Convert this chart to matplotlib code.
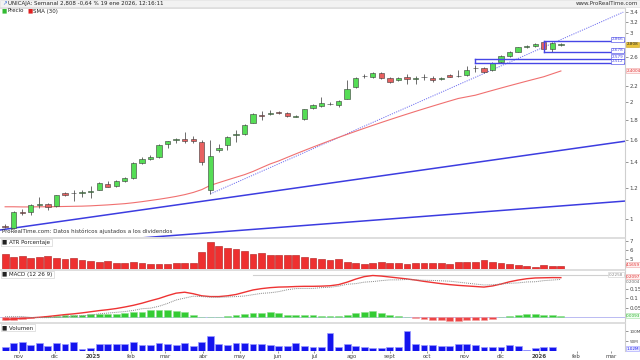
import numpy as np
import pandas as pd
import matplotlib
matplotlib.use('Agg')
import matplotlib.pyplot as plt
from matplotlib.ticker import NullLocator

# datos semanales UNICAJA (lunes de cada semana)
inicio = pd.Timestamp('2024-10-21')
n_semanas = 66

apertura = [0.962, 0.950, 1.045, 1.042, 1.086, 1.095, 1.080, 1.166, 1.165, 1.168, 1.175,
            1.187, 1.230, 1.216, 1.254, 1.275, 1.395, 1.429, 1.440, 1.559, 1.594, 1.608,
            1.608, 1.574, 1.187, 1.504, 1.547, 1.641, 1.650, 1.768, 1.854, 1.865, 1.880,
            1.869, 1.832, 1.807, 1.925, 1.955, 1.975, 1.967, 2.038, 2.180, 2.335, 2.320,
            2.368, 2.309, 2.276, 2.313, 2.295, 2.318, 2.309, 2.289, 2.344, 2.333, 2.344,
            2.437, 2.448, 2.411, 2.537, 2.628, 2.690, 2.767, 2.778, 2.850, 2.734, 2.800]
maximo = [0.972, 1.046, 1.058, 1.095, 1.14, 1.10, 1.155, 1.175, 1.185, 1.19, 1.215,
          1.245, 1.25, 1.26, 1.28, 1.40, 1.44, 1.46, 1.56, 1.59, 1.61, 1.67,
          1.63, 1.60, 1.60, 1.56, 1.63, 1.69, 1.75, 1.87, 1.89, 1.90, 1.89,
          1.88, 1.855, 1.92, 1.97, 2.06, 1.995, 2.02, 2.28, 2.31, 2.36, 2.38,
          2.38, 2.32, 2.32, 2.36, 2.33, 2.36, 2.33, 2.32, 2.36, 2.42, 2.47,
          2.49, 2.46, 2.53, 2.64, 2.70, 2.77, 2.80, 2.84, 2.866, 2.85, 2.83]
minimo = [0.948, 0.945, 1.025, 1.025, 1.065, 1.055, 1.075, 1.145, 1.115, 1.14, 1.13,
          1.185, 1.205, 1.21, 1.245, 1.27, 1.385, 1.42, 1.435, 1.52, 1.57, 1.565,
          1.565, 1.38, 1.16, 1.49, 1.50, 1.58, 1.645, 1.76, 1.80, 1.85, 1.86,
          1.83, 1.825, 1.80, 1.915, 1.945, 1.96, 1.94, 2.03, 2.17, 2.30, 2.30,
          2.29, 2.23, 2.26, 2.22, 2.22, 2.28, 2.25, 2.27, 2.31, 2.31, 2.33,
          2.38, 2.37, 2.40, 2.52, 2.61, 2.68, 2.75, 2.76, 2.72, 2.678, 2.78]
cierre = [0.952, 1.040, 1.036, 1.086, 1.090, 1.076, 1.150, 1.150, 1.167, 1.170, 1.182,
          1.240, 1.211, 1.254, 1.272, 1.390, 1.424, 1.446, 1.547, 1.586, 1.605, 1.586,
          1.584, 1.399, 1.454, 1.525, 1.622, 1.654, 1.744, 1.858, 1.836, 1.876, 1.869,
          1.840, 1.833, 1.914, 1.960, 1.983, 1.978, 2.007, 2.158, 2.303, 2.337, 2.368,
          2.299, 2.245, 2.303, 2.286, 2.309, 2.322, 2.276, 2.303, 2.317, 2.337, 2.411,
          2.440, 2.386, 2.522, 2.623, 2.682, 2.762, 2.783, 2.822, 2.734, 2.826, 2.808]
sma30 = [1.075, 1.075, 1.074, 1.074, 1.075, 1.075, 1.076, 1.077, 1.078, 1.079, 1.081,
         1.084, 1.087, 1.091, 1.095, 1.101, 1.108, 1.116, 1.124, 1.133, 1.143, 1.155,
         1.170, 1.190, 1.220, 1.240, 1.260, 1.280, 1.300, 1.325, 1.355, 1.385, 1.410,
         1.440, 1.470, 1.500, 1.530, 1.560, 1.590, 1.620, 1.650, 1.680, 1.710, 1.740,
         1.770, 1.800, 1.830, 1.860, 1.890, 1.920, 1.950, 1.980, 2.010, 2.040, 2.060,
         2.080, 2.110, 2.140, 2.170, 2.200, 2.230, 2.260, 2.290, 2.320, 2.360, 2.4004]

atr_pct = [5.48, 5.19, 5.26, 5.11, 5.19, 5.26, 5.07, 5.00, 5.04, 4.81, 4.78,
           4.63, 4.74, 4.56, 4.56, 4.63, 4.48, 4.37, 4.37, 4.37, 4.52, 4.52,
           4.50, 5.78, 6.81, 6.44, 6.15, 6.11, 5.81, 5.52, 5.67, 5.44, 5.41,
           5.44, 5.37, 5.19, 5.04, 5.00, 4.89, 4.93, 4.63, 4.56, 4.41, 4.52,
           4.67, 4.52, 4.48, 4.41, 4.52, 4.48, 4.48, 4.48, 4.44, 4.59, 4.59,
           4.59, 4.81, 4.63, 4.52, 4.44, 4.26, 4.15, 4.04, 4.26, 4.19, 4.1659]

macd = [-0.011, -0.008, -0.005, -0.002, 0.001, 0.005, 0.010, 0.015, 0.019, 0.024, 0.030,
        0.036, 0.041, 0.047, 0.055, 0.064, 0.075, 0.088, 0.100, 0.115, 0.128, 0.133,
        0.125, 0.114, 0.110, 0.110, 0.114, 0.121, 0.133, 0.145, 0.152, 0.157, 0.160,
        0.161, 0.163, 0.164, 0.164, 0.165, 0.167, 0.173, 0.186, 0.202, 0.215, 0.221,
        0.218, 0.213, 0.208, 0.203, 0.197, 0.190, 0.184, 0.178, 0.173, 0.169, 0.166,
        0.163, 0.160, 0.166, 0.176, 0.188, 0.197, 0.204, 0.208, 0.209, 0.210, 0.2097]
senal = [0.004, 0.004, 0.005, 0.000, -0.001, -0.001, 0.000, 0.004, 0.006, 0.009, 0.012,
         0.019, 0.023, 0.027, 0.031, 0.037, 0.046, 0.049, 0.059, 0.074, 0.092, 0.102,
         0.112, 0.110, 0.107, 0.106, 0.108, 0.110, 0.113, 0.120, 0.127, 0.130, 0.136,
         0.146, 0.152, 0.153, 0.153, 0.157, 0.159, 0.165, 0.175, 0.178, 0.186, 0.189,
         0.194, 0.198, 0.198, 0.200, 0.198, 0.196, 0.195, 0.193, 0.191, 0.186, 0.181,
         0.176, 0.171, 0.172, 0.176, 0.180, 0.182, 0.187, 0.188, 0.194, 0.197, 0.2004]
histograma = [-0.015, -0.012, -0.010, -0.002, 0.002, 0.006, 0.010, 0.011, 0.013, 0.015, 0.018,
              0.017, 0.018, 0.020, 0.024, 0.027, 0.029, 0.039, 0.041, 0.041, 0.036, 0.031,
              0.013, 0.004, 0.003, 0.004, 0.006, 0.011, 0.020, 0.025, 0.025, 0.027, 0.024,
              0.015, 0.011, 0.011, 0.011, 0.008, 0.008, 0.008, 0.011, 0.024, 0.029, 0.032,
              0.024, 0.015, 0.010, 0.003, -0.001, -0.006, -0.011, -0.015, -0.018, -0.017, -0.015,
              -0.013, -0.011, -0.006, 0.000, 0.008, 0.015, 0.017, 0.020, 0.015, 0.013, 0.0093]

# volumen en millones
volumen = [22.6, 42, 45, 29, 39, 26, 39, 37, 43.5, 11, 14.5,
           34, 35.5, 35.5, 35.5, 47, 29, 29, 39, 37, 31, 40,
           26, 48, 77, 34, 32, 39, 40, 35.5, 34, 31, 26,
           24, 42, 27, 21, 22.6, 90, 18, 35.5, 24, 19, 13,
           14.5, 22.6, 21, 103, 34, 29, 29, 27, 24, 34, 34,
           31, 21, 21, 21, 31, 24, 6.5, 13, 22.6, 22.6, 1.02]

fechas_mes = ['2024-11-01', '2024-12-01', '2025-01-01', '2025-02-01', '2025-03-01', '2025-04-01',
              '2025-05-01', '2025-06-01', '2025-07-01', '2025-08-01', '2025-09-01', '2025-10-01',
              '2025-11-01', '2025-12-01', '2026-01-01', '2026-02-01', '2026-03-01']
etiquetas_mes = ['nov', 'dic', '2025', 'feb', 'mar', 'abr', 'may', 'jun', 'jul', 'ago',
                 'sept', 'oct', 'nov', 'dic', '2026', 'feb', 'mar']

# lineas dibujadas a mano sobre el grafico (indice semana, precio)
canal_sup = ([-0.6, 72.5], [0.937, 1.584])
canal_inf = ([10.0, 72.5], [0.874, 1.112])
tendencia = ([24.0, 72.3], [1.16, 3.40])
niveles_sup = [2.866, 2.678]
niveles_inf = [2.579, 2.512]

x = np.arange(n_semanas)
apertura = np.array(apertura); cierre = np.array(cierre)
maximo = np.array(maximo); minimo = np.array(minimo)
sube = cierre >= apertura

FS = 4
FSB = 3  # etiquetas en caja del eje
GRIS = '#444444'

fig = plt.figure(figsize=(6.4, 3.6), dpi=100)
fig.patch.set_facecolor('white')

def px(xp, yp):
    return xp / 640, 1 - yp / 360

W = 625 / 640
ax = fig.add_axes([0, 1 - 237 / 360, W, 229 / 360])
ax_atr = fig.add_axes([0, 1 - 269 / 360, W, 31 / 360], sharex=ax)
ax_macd = fig.add_axes([0, 1 - 322 / 360, W, 52 / 360], sharex=ax)
ax_vol = fig.add_axes([0, 1 - 351 / 360, W, 28 / 360], sharex=ax)

for a in (ax, ax_atr, ax_macd, ax_vol):
    a.set_facecolor('white')
    for s in ('left', 'bottom'):
        a.spines[s].set_visible(False)
    a.spines['top'].set_color('#d8d8d8')
    a.spines['right'].set_color('#cfcfcf')
    a.spines['top'].set_linewidth(1.2)
    a.spines['right'].set_linewidth(0.8)
    a.yaxis.tick_right()
    a.tick_params(axis='y', labelsize=FS, colors=GRIS, length=2, width=0.4, pad=1)
    a.tick_params(axis='x', bottom=False, labelbottom=False)
ax.set_xlim(-0.6, 72.5)

def caja_eje(a, y, texto, color, fondo, borde):
    a.text(1.002, y, texto, transform=a.get_yaxis_transform(), ha='left', va='center',
           fontsize=FSB, color=color, zorder=10,
           bbox=dict(boxstyle='square,pad=0.12', fc=fondo, ec=borde, lw=0.4))

# ---- precio ----
ax.set_yscale('log')
ax.set_ylim(0.899, 3.484)
ax.yaxis.set_minor_locator(NullLocator())
ticks_p = [1, 1.2, 1.4, 1.6, 1.8, 2, 2.2, 2.6, 3, 3.2, 3.4]
ax.set_yticks(ticks_p)
ax.set_yticklabels([('%g' % t) for t in ticks_p])

ax.plot(canal_sup[0], canal_sup[1], color='#3c3ce0', lw=1.1, zorder=2)
ax.plot(canal_inf[0], canal_inf[1], color='#3c3ce0', lw=1.1, zorder=2)
ax.plot(tendencia[0], tendencia[1], color='#7070f0', lw=0.7, ls=(0, (1.2, 1.2)), zorder=2)
ax.plot(x, sma30, color='#f07070', lw=0.8, zorder=2)

colores = np.where(sube, '#55dd55', '#e86060')
ax.vlines(x, minimo, maximo, color='#555555', lw=0.6, zorder=3)
cuerpo_base = np.minimum(apertura, cierre)
cuerpo_alto = np.maximum(np.abs(cierre - apertura), 0.002)
ax.bar(x, cuerpo_alto, bottom=cuerpo_base, width=0.62, color=colores,
       edgecolor='#3a3a3a', linewidth=0.4, zorder=4)

for lvl in niveles_sup:
    ax.plot([63, 72.5], [lvl, lvl], color='#4646e6', lw=1.0, zorder=5)
ax.plot([63, 63], niveles_sup, color='#4646e6', lw=1.0, zorder=5)
for lvl in niveles_inf:
    ax.plot([55, 72.5], [lvl, lvl], color='#4646e6', lw=1.0, zorder=5)
ax.plot([55, 55], niveles_inf, color='#4646e6', lw=1.0, zorder=5)
for lvl in niveles_sup + niveles_inf:
    ax.text(0.997, lvl, ('%.3f' % lvl), transform=ax.get_yaxis_transform(), ha='right', va='bottom',
            fontsize=FSB, color='#4646e6',
            bbox=dict(boxstyle='square,pad=0.12', fc='white', ec='#4646e6', lw=0.4), zorder=6)

caja_eje(ax, cierre[-1], '2.808', '#222222', '#e8c23a', '#c9a020')
caja_eje(ax, sma30[-1], '2.4004', '#e03030', '#fff0f0', '#f0a0a0')

ax.text(0.003, 0.012, 'ProRealTime.com: Datos históricos ajustados a los dividendos', transform=ax.transAxes,
        fontsize=FS, color='#333333', va='bottom', ha='left')

# ---- ATR porcentaje ----
base_atr = 3.86
ax_atr.set_ylim(base_atr, 7.3)
ax_atr.bar(x, np.array(atr_pct) - base_atr, bottom=base_atr, width=0.8, color='#ee3030',
           edgecolor='#b01818', linewidth=0.4)
ax_atr.set_yticks([5, 6, 7])
ax_atr.set_yticklabels(['5', '6', '7'])
caja_eje(ax_atr, 4.35, '4.1659', '#e03030', '#fff0f0', '#f0a0a0')
ax_atr.text(0.004, 0.86, '■ ATR Porcentaje', transform=ax_atr.transAxes, fontsize=FS, color='#222222',
            va='center', bbox=dict(boxstyle='square,pad=0.2', fc='white', ec='#cccccc', lw=0.4))

# ---- MACD ----
ax_macd.set_ylim(-0.024, 0.25)
ax_macd.axhline(0, color='#b0b0f0', lw=0.6, zorder=1)
ax_macd.plot([29, 72.5], [0.2258, 0.2258], color='#d0d0d0', lw=0.8, zorder=1)
hist = np.array(histograma)
ax_macd.bar(x, hist, width=0.8, color=np.where(hist >= 0, '#33cc33', '#ee4444'),
            edgecolor=np.where(hist >= 0, '#8fdf8f', '#f3a0a0'), linewidth=0.4, zorder=2)
ax_macd.plot(x, macd, color='#ee3333', lw=1.0, zorder=3)
ax_macd.plot(x, senal, color='#888888', lw=0.7, ls=(0, (1, 1)), zorder=3)
ax_macd.set_yticks([0.05, 0.1, 0.15])
ax_macd.set_yticklabels(['0.05', '0.1', '0.15'])
ax_macd.text(0.997, 0.2258, '0.2258', transform=ax_macd.get_yaxis_transform(), ha='right', va='center',
             fontsize=FSB, color='#888888',
             bbox=dict(boxstyle='square,pad=0.12', fc='white', ec='#cccccc', lw=0.4))
caja_eje(ax_macd, 0.2097 + 0.004, '0.2097', '#e03030', '#fff0f0', '#f0a0a0')
ax_macd.text(1.002, 0.2004 - 0.014, '0.2004', transform=ax_macd.get_yaxis_transform(), ha='left',
             va='center', fontsize=FSB, color='#666666')
caja_eje(ax_macd, 0.0093, '0.0093', '#22aa22', '#effff0', '#a0e0a0')
ax_macd.text(0.004, 0.91, '■ MACD (12 26 9)', transform=ax_macd.transAxes, fontsize=FS, color='#222222',
             va='center', bbox=dict(boxstyle='square,pad=0.2', fc='white', ec='#cccccc', lw=0.4))

# ---- volumen ----
vol = np.array(volumen) * 1e6
ax_vol.set_ylim(0, 143e6)
ax_vol.bar(x, vol, width=0.8, color='#1414ee', edgecolor='#9a9aff', linewidth=0.5)
ax_vol.set_yticks([50e6, 100e6])
ax_vol.set_yticklabels(['50M', '100M'])
ax_vol.tick_params(axis='y', labelsize=FSB)
caja_eje(ax_vol, 12e6, '1.02M', '#1414ee', '#f0f0ff', '#9a9aff')
ax_vol.text(0.004, 0.84, '■ Volumen', transform=ax_vol.transAxes, fontsize=FS, color='#222222',
            va='center', bbox=dict(boxstyle='square,pad=0.2', fc='white', ec='#cccccc', lw=0.4))

# eje de fechas
pos_mes = [(pd.Timestamp(f) - inicio).days / 7 for f in fechas_mes]
ax_vol.set_xticks(pos_mes)
ax_vol.set_xticklabels(etiquetas_mes)
ax_vol.tick_params(axis='x', bottom=True, labelbottom=True, labelsize=FS, colors=GRIS,
                   length=1.5, width=0.4, pad=1)
for lab in ax_vol.get_xticklabels():
    if lab.get_text() in ('2025', '2026'):
        lab.set_fontweight('bold')

# cabecera
fig.patches.append(plt.Rectangle(px(0, 7), 1, 7 / 360, transform=fig.transFigure,
                                 facecolor='#f2f2f2', edgecolor='#dddddd', lw=0.4))
fig.text(*px(8, 3.8), 'UNICAJA: Semanal 2,808 -0,64 % 19 ene 2026, 12:16:11', fontsize=FS,
         color='#222222', va='center')
fig.text(*px(2, 3.8), '↗', fontsize=FS, color='#3a6ed8', va='center')
fig.text(*px(638, 3.8), 'www.ProRealTime.com', fontsize=FS, color='#333333', va='center', ha='right')
fig.text(*px(2, 11), '■', fontsize=FS, color='#33bb33', va='center')
fig.text(*px(7, 11), 'Precio', fontsize=FS, color='#222222', va='center')
fig.text(*px(28, 11), '■', fontsize=FS, color='#e02020', va='center')
fig.text(*px(33, 11), 'SMA (30)', fontsize=FS, color='#222222', va='center')

plt.savefig('out.png', dpi=100)
plt.close()
